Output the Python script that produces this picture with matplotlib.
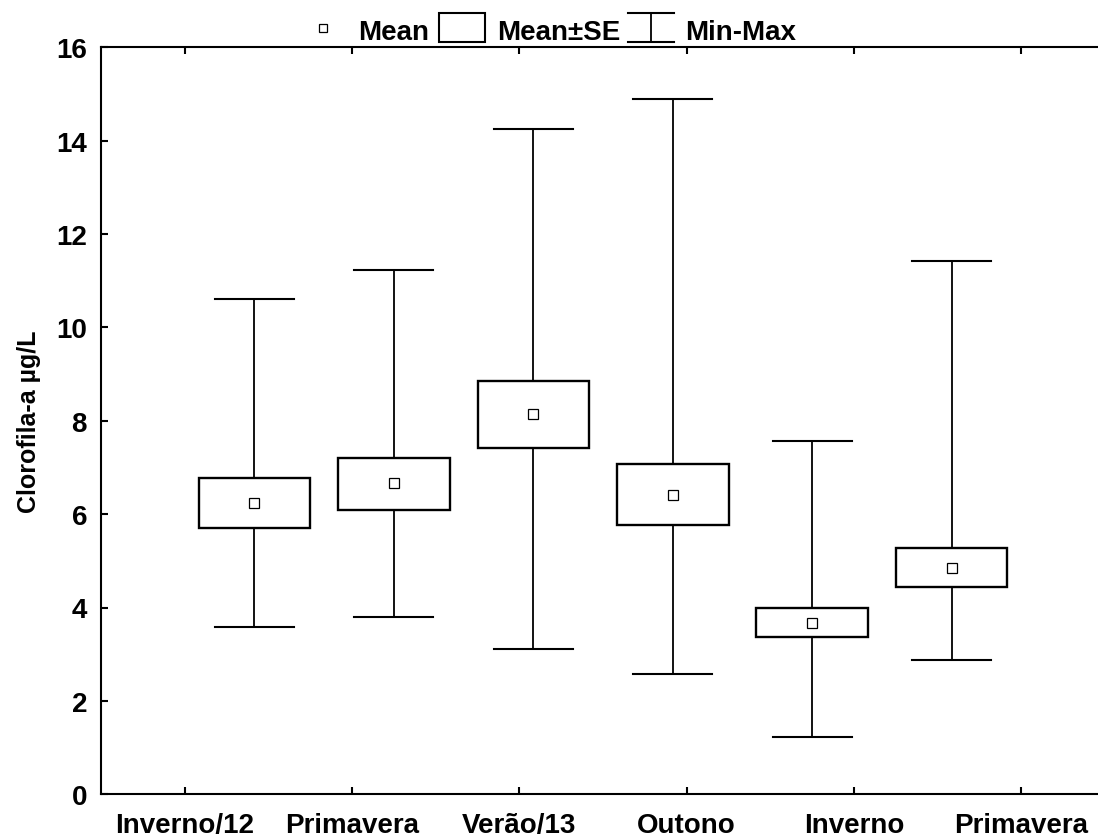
import matplotlib
matplotlib.use("Agg")
import matplotlib.pyplot as plt
from matplotlib.patches import Rectangle

plt.rcParams['font.family'] = ['Liberation Sans', 'DejaVu Sans']
plt.rcParams['font.weight'] = 'bold'

categories = ["Inverno/12", "Primavera", "Verão/13", "Outono", "Inverno", "Primavera"]
means = [6.24, 6.66, 8.14, 6.40, 3.66, 4.85]
se_low = [5.70, 6.08, 7.42, 5.76, 3.36, 4.44]
se_high = [6.77, 7.20, 8.84, 7.07, 3.98, 5.27]
mins = [3.58, 3.79, 3.12, 2.58, 1.23, 2.87]
maxs = [10.61, 11.23, 14.25, 14.88, 7.57, 11.43]
yticks = [0, 2, 4, 6, 8, 10, 12, 14, 16]

W, H = 1098, 837
fig = plt.figure(figsize=(W / 100, H / 100), dpi=100)
ax = fig.add_axes([101 / W, (H - 795.3) / H, 1004 / W, (795.3 - 48.1) / H])

box_w = 0.80
cap_w = 0.566
positions = [i + 1 for i in range(len(categories))]
for p, m, lo, hi, mn, mx in zip(positions, means, se_low, se_high, mins, maxs):
    ax.plot([p, p], [mn, mx], color='black', lw=1.3, zorder=2, solid_capstyle='butt')
    ax.plot([p - cap_w / 2, p + cap_w / 2], [mn, mn], color='black', lw=1.5, zorder=2)
    ax.plot([p - cap_w / 2, p + cap_w / 2], [mx, mx], color='black', lw=1.5, zorder=2)
    ax.add_patch(Rectangle((p - box_w / 2, lo), box_w, hi - lo, facecolor='white',
                           edgecolor='black', lw=1.7, zorder=3))
    ax.plot([p], [m], marker='s', ms=7, mfc='white', mec='black', mew=0.9, zorder=4)

ax.set_xlim(-0.1, 7.1)
ax.set_ylim(0, 16)
tick_pos = [0.5 + 1.2 * i for i in range(len(categories))]
ax.set_xticks(tick_pos)
ax.set_xticklabels(categories, fontsize=20, fontweight='bold')
ax.set_yticks(yticks)
ax.set_yticklabels([str(t) for t in yticks], fontsize=20, fontweight='bold')
ax.tick_params(axis='x', direction='in', length=5, width=1.5, top=True, pad=12.5)
ax.tick_params(axis='y', direction='in', length=5, width=1.5, pad=10)
for s in ['left', 'bottom', 'top']:
    ax.spines[s].set_linewidth(1.5)
ax.spines['right'].set_visible(False)
ax.set_ylabel("Clorofila-a µg/L", fontsize=18, fontweight='bold', labelpad=11)

# legend drawn in pixel space
lax = fig.add_axes([0, 0, 1, 1], zorder=5)
lax.set_xlim(0, W)
lax.set_ylim(H, 0)
lax.axis('off')
lax.plot([323], [29], marker='s', ms=6, mfc='white', mec='black', mew=0.9)
lax.text(358, 40, "Mean", fontsize=20, fontweight='bold', va='baseline', ha='left')
lax.add_patch(Rectangle((439, 14), 46, 29, facecolor='white', edgecolor='black', lw=1.5))
lax.text(497, 40, "Mean±SE", fontsize=20, fontweight='bold', va='baseline', ha='left')
lax.plot([628, 674], [14, 14], color='black', lw=1.5)
lax.plot([651, 651], [14, 43], color='black', lw=1.3)
lax.plot([628, 674], [43, 43], color='black', lw=1.5)
lax.text(685, 40, "Min-Max", fontsize=20, fontweight='bold', va='baseline', ha='left')

fig.savefig("out.png", dpi=100)
